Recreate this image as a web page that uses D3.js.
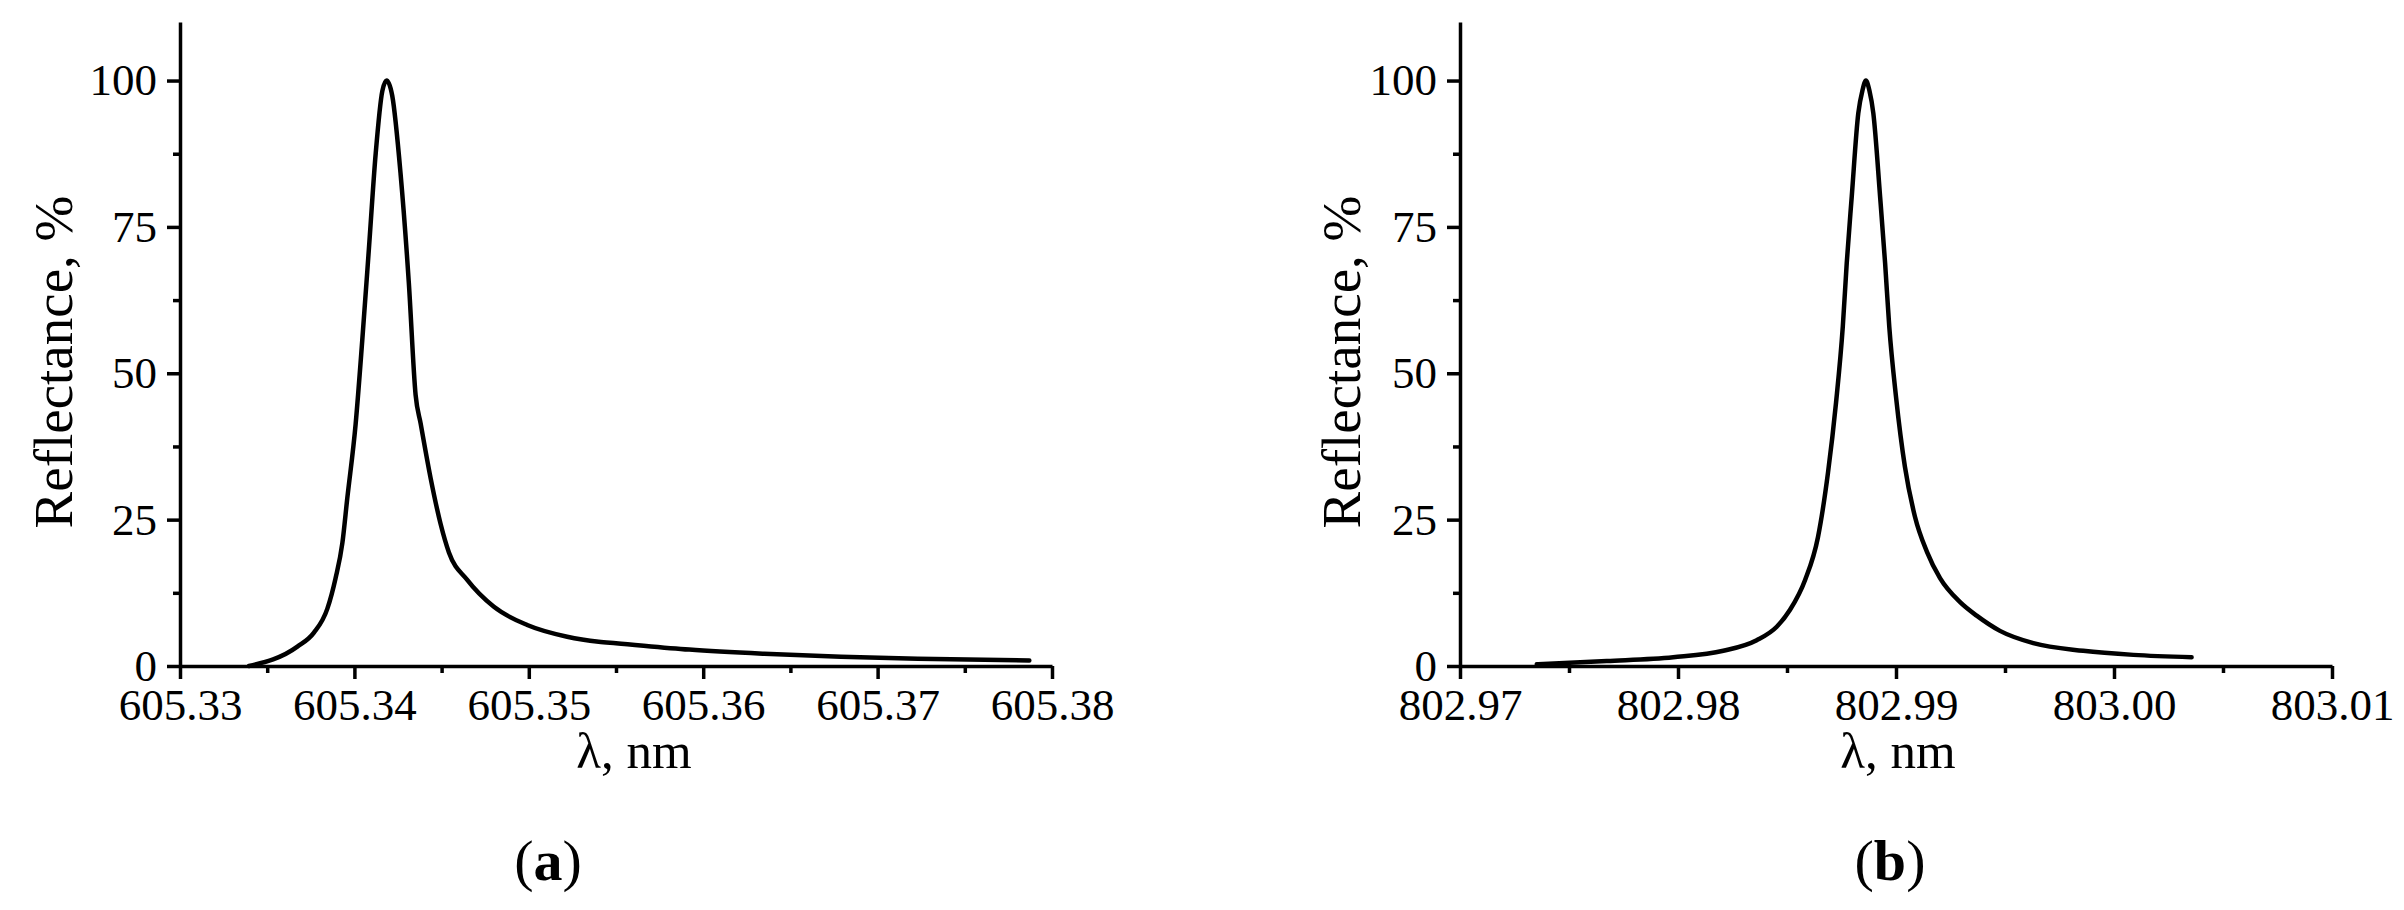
<!DOCTYPE html>
<html>
<head>
<meta charset="utf-8">
<script src="https://cdn.jsdelivr.net/npm/d3@7"></script>
<style>
  body { margin: 0; background: #fff; }
  text { font-family: "Liberation Serif", "Times New Roman", serif; fill: #000; }
</style>
</head>
<body>
<svg width="2404" height="910"></svg>
<script>
// Panel (a): reflectance peak near 605.34 nm
var lambdaA = [605.33395, 605.33673, 605.33768, 605.33845, 605.33892, 605.33931, 605.33959, 605.34007,
  605.34045, 605.34083, 605.34122, 605.34160, 605.34185, 605.34217, 605.34265, 605.34312, 605.34351,
  605.34380, 605.34437, 605.34494, 605.34542, 605.34647, 605.34800, 605.34991, 605.35220, 605.35401,
  605.3550, 605.3592, 605.3635, 605.3679, 605.3723, 605.3787];
var reflA = [0, 3.3, 5.7, 9.8, 15, 21, 28.6, 41.3, 55.6, 71.2, 87.5, 98.2, 100, 97.4, 84, 65.5, 46.3,
  41.4, 32.1, 24.3, 19.4, 14.7, 10.1, 7.0, 5.0, 4.15, 3.9, 2.8, 2.1, 1.6, 1.25, 0.95];

// Panel (b): reflectance peak near 802.99 nm
var lambdaB = [802.97352, 802.97673, 802.97978, 802.98208, 802.98361, 802.98453, 802.98514, 802.98583,
  802.98642, 802.98688, 802.98725, 802.98756, 802.98774, 802.98797, 802.98827, 802.98846, 802.98862,
  802.98878, 802.98896, 802.98927, 802.98950, 802.98969, 802.99000, 802.99041, 802.99087, 802.99142,
  802.99202, 802.99294, 802.99370, 802.99477, 802.99630, 802.99859, 803.00089, 803.00356];
var reflB = [0.3, 0.85, 1.5, 2.6, 4.4, 6.7, 9.6, 14.7, 22, 33, 45, 58, 68.8, 80.2, 94.4, 98.3, 100,
  98.3, 94.4, 80.2, 68.8, 58, 46, 34, 25.5, 19.5, 15, 10.9, 8.6, 6.0, 3.9, 2.6, 1.9, 1.5];

// ticks
var xTicksA = [605.33, 605.34, 605.35, 605.36, 605.37, 605.38];
var xMinorA = [605.335, 605.345, 605.355, 605.365, 605.375];
var xTicksB = [802.97, 802.98, 802.99, 803.00, 803.01];
var xMinorB = [802.975, 802.985, 802.995, 803.005];
var yTicks = [0, 25, 50, 75, 100];
var yMinor = [12.5, 37.5, 62.5, 87.5];

var svg = d3.select("svg");

var top_ = 22, bottom = 666;

function drawPanel(p) {
  var g = svg.append("g");

  var x = d3.scaleLinear().domain(p.domain).range([p.left, p.right]);
  var y = d3.scaleLinear().domain([0, 110]).range([bottom, top_]);

  // minor ticks first (no labels)
  g.append("g")
    .attr("transform", "translate(0," + bottom + ")")
    .call(d3.axisBottom(x).tickValues(p.minor).tickSize(7).tickSizeOuter(0).tickFormat(""))
    .call(function(a){ a.select(".domain").remove() });
  g.append("g")
    .attr("transform", "translate(" + p.left + ",0)")
    .call(d3.axisLeft(y).tickValues(yMinor).tickSize(7).tickSizeOuter(0).tickFormat(""))
    .call(function(a){ a.select(".domain").remove() });

  // major x axis
  var xa = g.append("g")
    .attr("transform", "translate(0," + bottom + ")")
    .call(d3.axisBottom(x).tickValues(p.ticks).tickSize(13).tickSizeOuter(0)
      .tickPadding(9).tickFormat(d3.format(".2f")));
  xa.selectAll("text").style("font-size", "45px").style("font-family", "Liberation Serif");

  // major y axis
  var ya = g.append("g")
    .attr("transform", "translate(" + p.left + ",0)")
    .call(d3.axisLeft(y).tickValues(yTicks).tickSize(13).tickSizeOuter(0).tickPadding(10));
  ya.selectAll("text").style("font-size", "45px").style("font-family", "Liberation Serif");

  g.selectAll(".domain, .tick line").attr("stroke", "#000").attr("stroke-width", 3.5);

  // the curve
  var line = d3.line()
    .x(function(d){ return x(d[0]) })
    .y(function(d){ return y(d[1]) })
    .curve(d3.curveMonotoneX);

  g.append("path")
    .datum(d3.zip(p.lam, p.refl))
    .attr("d", line)
    .attr("fill", "none")
    .attr("stroke", "#000")
    .attr("stroke-width", 4.5)
    .attr("stroke-linecap", "round")
    .attr("stroke-linejoin", "round");

  // axis titles
  g.append("text")
    .attr("x", p.titleX).attr("y", 768)
    .attr("text-anchor", "middle")
    .style("font-size", "51px")
    .text("λ, nm");

  g.append("text")
    .attr("transform", "translate(" + p.yTitleX + ",362) rotate(-90)")
    .attr("text-anchor", "middle")
    .style("font-size", "55px")
    .text("Reflectance, %");

  // panel letter
  var lab = g.append("text")
    .attr("x", p.letterX).attr("y", 880)
    .attr("text-anchor", "middle")
    .style("font-size", "58px");
  lab.append("tspan").text("(");
  lab.append("tspan").style("font-weight", "bold").text(p.letter);
  lab.append("tspan").text(")");
}

drawPanel({ lam: lambdaA, refl: reflA, domain: [605.33, 605.38], ticks: xTicksA, minor: xMinorA,
  left: 180, right: 1052, titleX: 634, yTitleX: 72, letter: "a", letterX: 548 });

drawPanel({ lam: lambdaB, refl: reflB, domain: [802.97, 803.01], ticks: xTicksB, minor: xMinorB,
  left: 1460, right: 2332, titleX: 1898, yTitleX: 1360, letter: "b", letterX: 1890 });
</script>
</body>
</html>
